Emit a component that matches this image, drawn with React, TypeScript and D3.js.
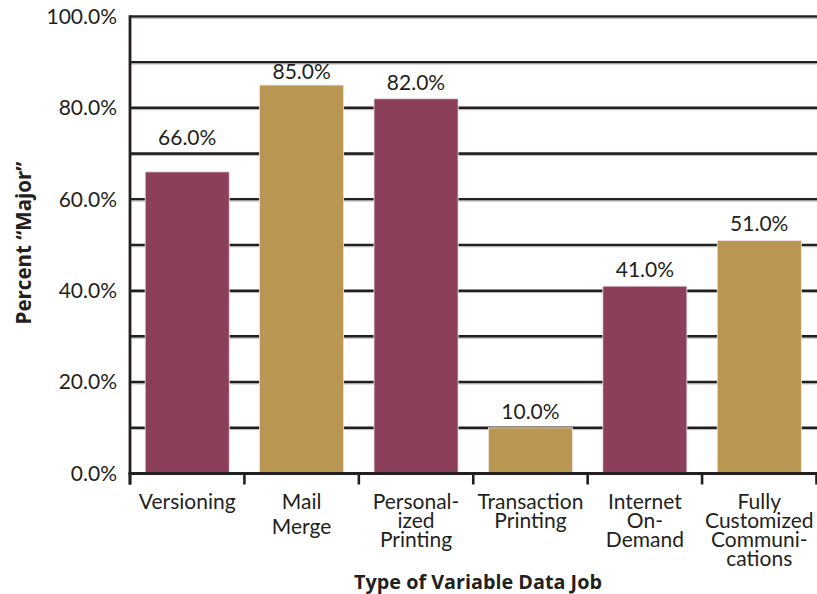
import React from "react";
import * as d3 from "d3";

const categories = ["Versioning", "Mail Merge", "Personalized Printing", "Transaction Printing", "Internet On-Demand", "Fully Customized Communications"];
const categoryLines = [
  ["Versioning"],
  ["Mail", "Merge"],
  ["Personal-", "ized", "Printing"],
  ["Transaction", "Printing"],
  ["Internet", "On-", "Demand"],
  ["Fully", "Customized", "Communi-", "cations"],
];
const values = [66, 85, 82, 10, 41, 51];
const barColors = ["#8c3f5a", "#b99652"];
const yTicks = [0, 20, 40, 60, 80, 100];
const gridValues = [10, 20, 30, 40, 50, 60, 70, 80, 90, 100];
const xTitle = "Type of Variable Data Job";
const yTitle = "Percent \u201CMajor\u201D";

const W = 817;
const H = 594;
const FONT = "Lato, 'Open Sans', sans-serif";
const BOLD_FONT = "'Open Sans', Lato, sans-serif";
const TEXT = "#231f20";
const FS = 21;

export default function App() {
  const left = 130;
  const right = 816.5;
  const top = 16.5;
  const bottom = 473.5;

  const x = d3.scaleBand<string>().domain(categories).range([left, right]).paddingInner(0.265).paddingOuter(0.1325);
  const y = d3.scaleLinear().domain([0, 100]).range([bottom, top]);
  const step = x.step();
  const tickXs = d3.range(categories.length + 1).map((i) => left + i * step);

  // place value labels above bars, dodging the gridlines
  const labelY = (v: number) => {
    let c = y(v) - 16.5;
    for (const g of gridValues) {
      const gy = y(g);
      if (Math.abs(c - gy) < 4) c = gy - 15.5;
      else if (gy > c - 9 && gy < c) c = gy + 9;
    }
    return c;
  };

  return (
    <svg width={W} height={H} style={{ position: "absolute", left: 0, top: 0, background: "#fff" }} fontFamily={FONT}>
      {gridValues.map((g) => (
        <g key={g}>
          <line x1={left} x2={W} y1={y(g)} y2={y(g)} stroke={TEXT} strokeWidth={2.6} />
          <line x1={left} x2={W} y1={y(g) + 1.8} y2={y(g) + 1.8} stroke="#b5b5b5" strokeWidth={1} />
        </g>
      ))}
      {categories.map((c, i) => (
        <rect
          key={c}
          x={x(c)}
          y={y(values[i])}
          width={x.bandwidth()}
          height={bottom - y(values[i])}
          fill={barColors[i % 2]}
          stroke="#efe6e9"
          strokeWidth={0.8}
        />
      ))}
      {categories.map((c, i) => (
        <text
          key={c}
          x={(x(c) as number) + x.bandwidth() / 2}
          y={labelY(values[i])}
          dy="0.35em"
          textAnchor="middle"
          fontSize={FS}
          fill={TEXT}
        >
          {values[i].toFixed(1)}%
        </text>
      ))}
      <line x1={left - 1.5} x2={right + 1.5} y1={bottom} y2={bottom} stroke={TEXT} strokeWidth={3} />
      {tickXs.map((tx, i) => (
        <line key={i} x1={tx} x2={tx} y1={bottom} y2={bottom + 11} stroke={TEXT} strokeWidth={2.6} />
      ))}
      <line x1={left} x2={left} y1={top - 1.3} y2={bottom + 11} stroke={TEXT} strokeWidth={2.8} />
      {yTicks.map((t) => (
        <text key={t} x={117} y={y(t)} dy="0.35em" textAnchor="end" fontSize={FS} fill={TEXT}>
          {t.toFixed(1)}%
        </text>
      ))}
      {categories.map((c, i) => (
        <text key={c} textAnchor="middle" fontSize={FS} fill={TEXT}>
          {categoryLines[i].map((ln, j) => (
            <tspan key={j} x={left + (i + 0.5) * step} y={502 + j * (i === 1 ? 24.5 : 18.8)} dy="0.35em">
              {ln}
            </tspan>
          ))}
        </text>
      ))}
      <text x={478} y={582} dy="0.35em" textAnchor="middle" fontSize={19.8} fontWeight="bold" fontFamily={BOLD_FONT} fill={TEXT}>
        {xTitle}
      </text>
      <text
        transform={`translate(24, 243) rotate(-90)`}
        dy="0.35em"
        textAnchor="middle"
        fontSize={20.5}
        fontWeight="bold"
        fontFamily={BOLD_FONT}
        fill={TEXT}
      >
        {yTitle}
      </text>
    </svg>
  );
}
